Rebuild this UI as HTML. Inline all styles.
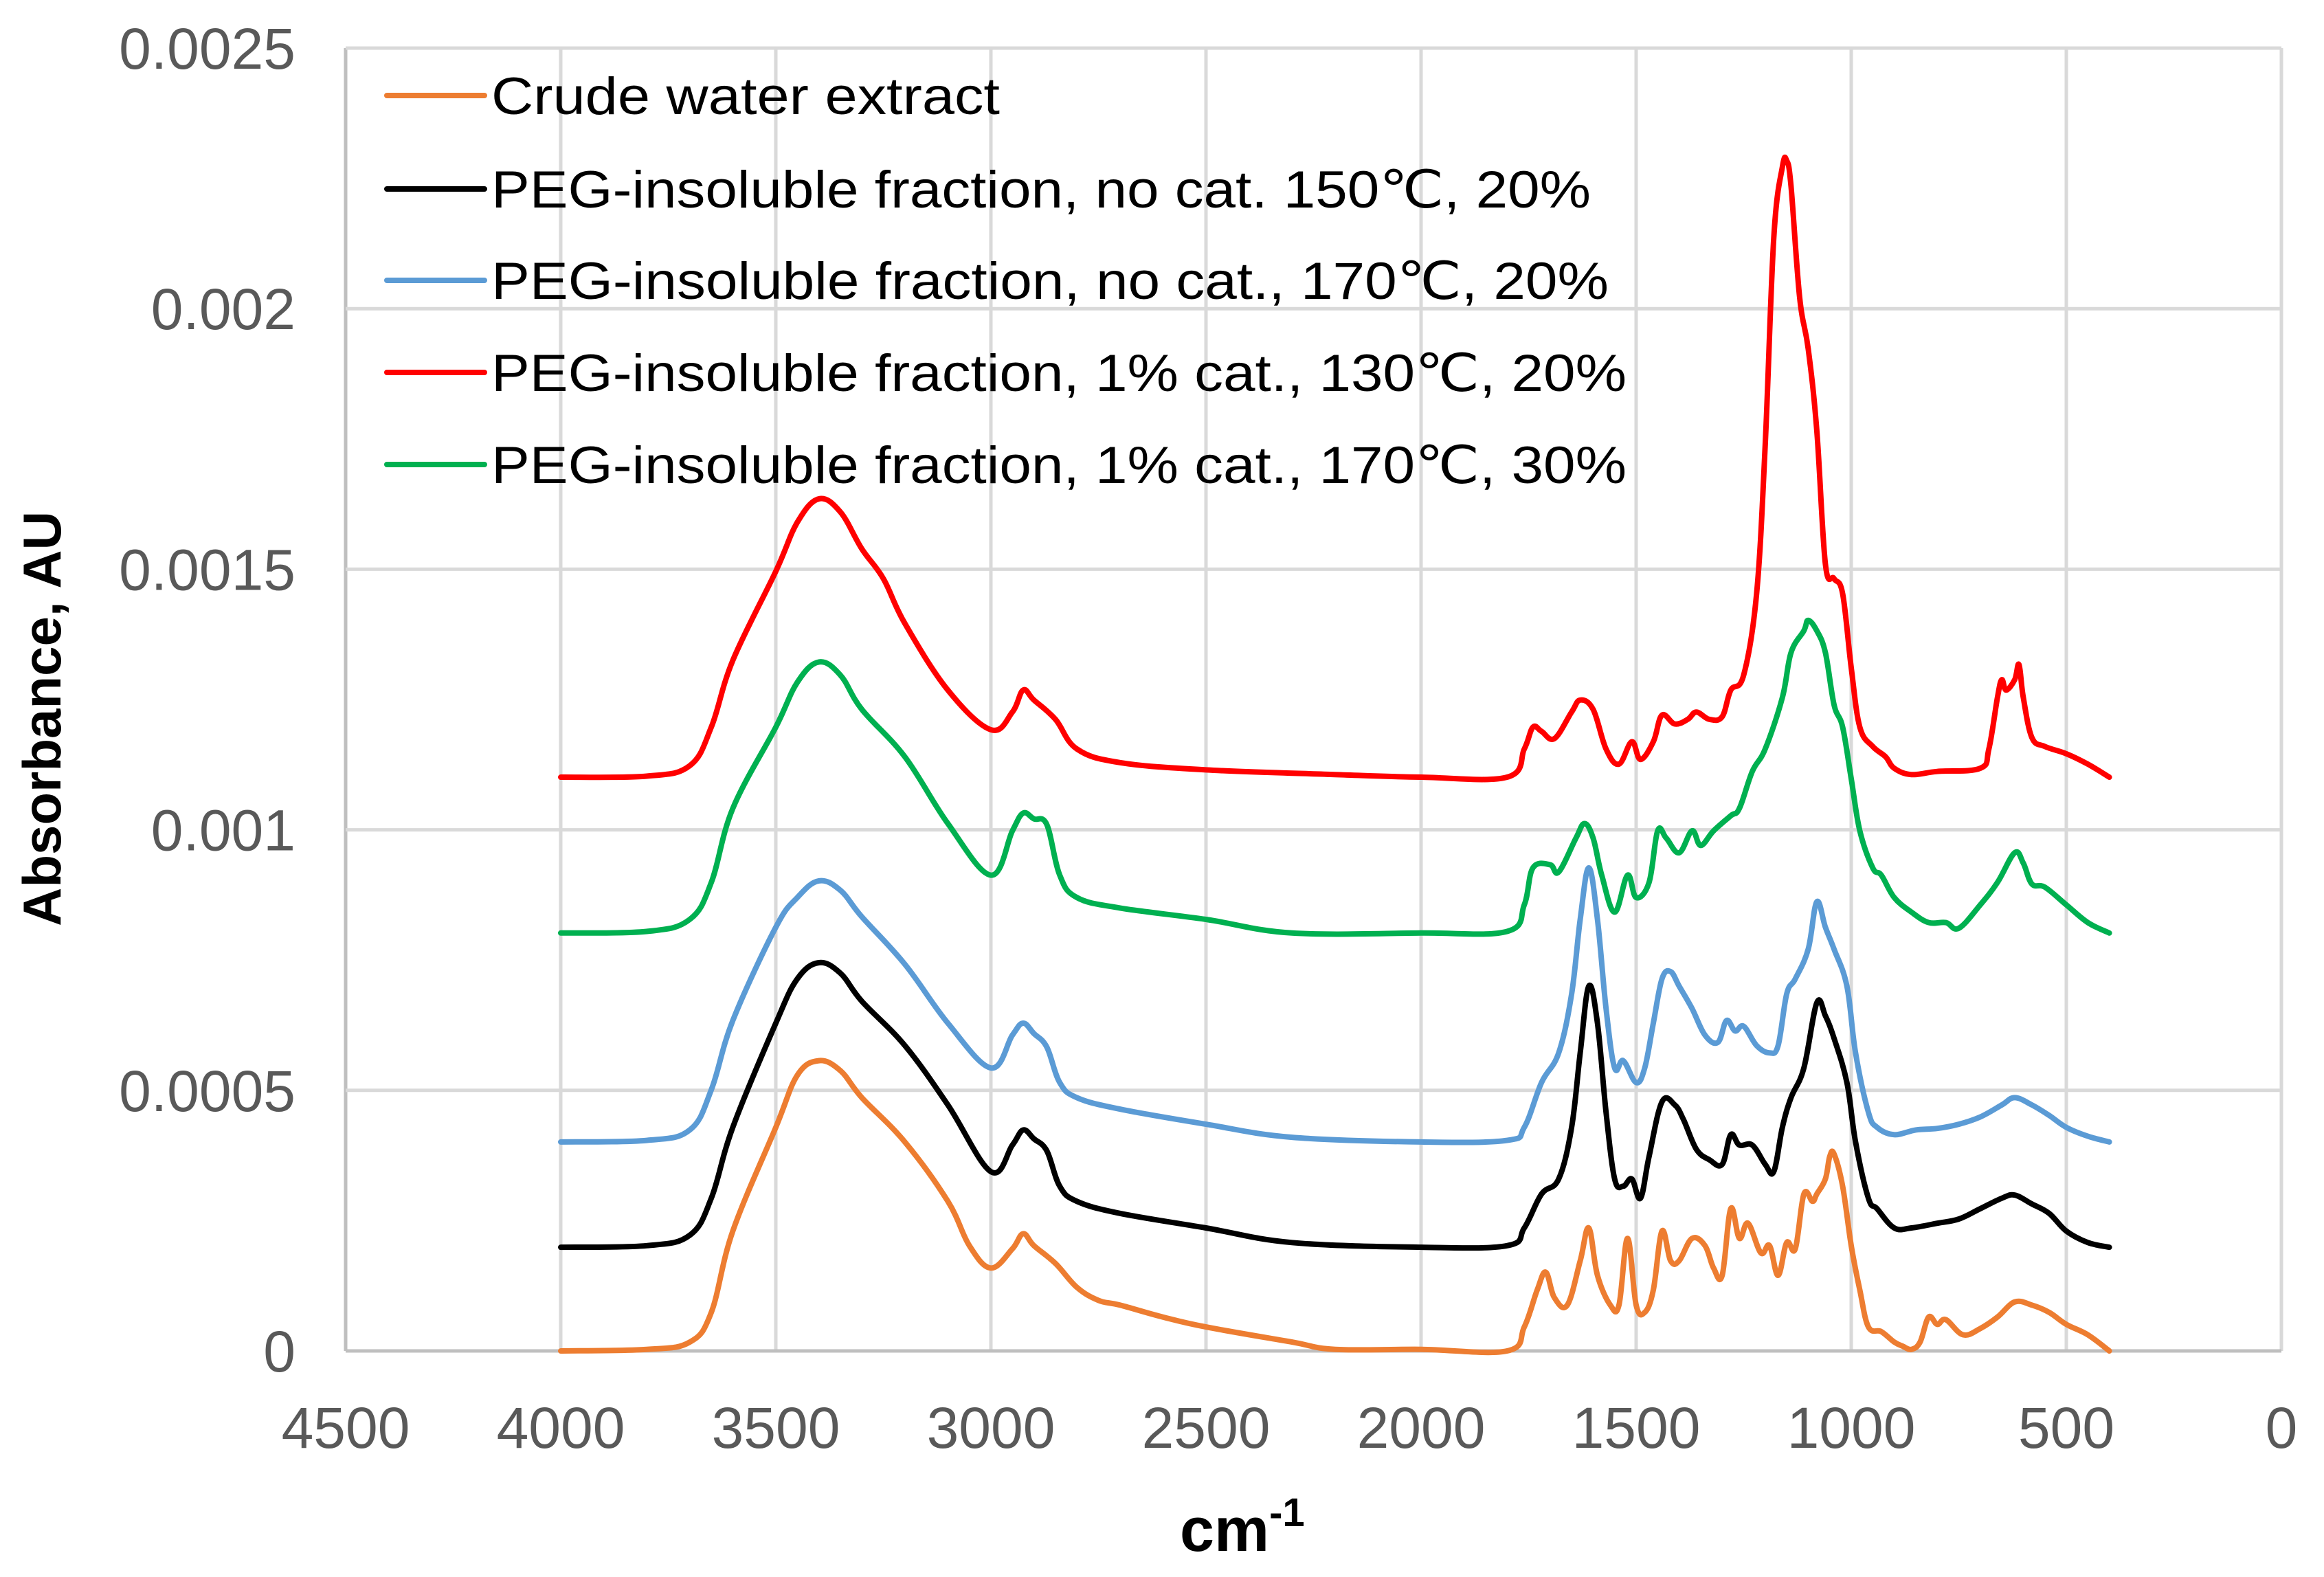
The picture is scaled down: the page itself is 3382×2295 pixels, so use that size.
<!DOCTYPE html>
<html><head><meta charset="utf-8"><style>
html,body{margin:0;padding:0;background:#fff;}
svg{display:block;font-family:"Liberation Sans",Arial,sans-serif;}
</style></head><body>
<svg id="chart" width="3382" height="2295" viewBox="0 0 3382 2295" xmlns="http://www.w3.org/2000/svg">
<rect width="3382" height="2295" fill="#fff"/>
<g id="grid"></g>
<g id="axes"></g>
<g id="series"></g>
<g id="legend"></g>
<text transform="translate(88,1046) rotate(-90)" text-anchor="middle" font-weight="bold" font-size="78" fill="#000">Absorbance, AU</text>
<text x="1717" y="2257" font-weight="bold" font-size="90" fill="#000">cm<tspan font-size="58" dy="-36">-1</tspan></text>
</svg>
<script>
const xTicks = [4500,4000,3500,3000,2500,2000,1500,1000,500,0];
const yTicks = [0,0.0005,0.001,0.0015,0.002,0.0025];
const yTickLabels = ["0","0.0005","0.001","0.0015","0.002","0.0025"];
const seriesNames = ["Crude water extract","PEG-insoluble fraction, no cat. 150\u2103, 20%","PEG-insoluble fraction, no cat., 170\u2103, 20%","PEG-insoluble fraction, 1% cat., 130\u2103, 20%","PEG-insoluble fraction, 1% cat., 170\u2103, 30%"];
const seriesColors = ["#ed7d31","#000000","#5b9bd5","#ff0000","#00b050"];
// values in units of 1e-4 AU
const orangeX = [4000,3800,3700,3650,3600,3500,3450,3400,3350,3300,3200,3100,3050,3000,2950,2925,2900,2850,2800,2750,2700,2600,2500,2300,2200,2000,1800,1760,1730,1710,1690,1660,1630,1610,1590,1560,1540,1520,1500,1480,1460,1440,1420,1400,1370,1340,1320,1300,1280,1260,1240,1210,1190,1170,1150,1130,1110,1090,1080,1060,1050,1040,1020,1000,980,960,930,900,880,860,840,820,800,780,740,700,660,620,580,540,500,450,400];
const orangeY = [0,0.03,0.17,0.74,2.30,4.29,5.29,5.57,5.38,4.86,4.01,2.87,2.02,1.59,1.96,2.25,2.02,1.68,1.22,0.97,0.88,0.65,0.46,0.17,0.03,0.03,0,0.46,1.17,1.51,1.02,0.88,1.73,2.36,1.45,0.88,0.88,2.16,0.88,0.74,1.17,2.30,1.73,1.73,2.16,2.02,1.59,1.45,2.73,2.16,2.45,1.88,2.02,1.45,2.08,1.96,3.01,2.87,3.01,3.30,3.73,3.78,3.16,2.02,1.17,0.46,0.37,0.17,0.09,0.03,0.17,0.65,0.51,0.60,0.31,0.43,0.65,0.94,0.88,0.74,0.51,0.31,0];
const blackX = [4000,3800,3700,3650,3600,3500,3450,3400,3350,3300,3200,3100,3000,2950,2925,2900,2870,2840,2800,2700,2500,2300,2000,1800,1760,1720,1680,1650,1630,1610,1590,1570,1550,1530,1510,1490,1470,1440,1410,1390,1360,1330,1300,1280,1260,1230,1200,1180,1160,1140,1110,1080,1060,1040,1010,990,960,940,900,860,800,750,700,650,620,580,540,500,450,400];
const blackY = [1.99,2.02,2.22,2.93,4.29,6.29,7.14,7.45,7.25,6.71,5.86,4.72,3.44,3.95,4.24,4.07,3.84,3.16,2.87,2.64,2.36,2.08,1.99,2.02,2.36,3.01,3.30,4.29,5.72,7.00,6.29,4.58,3.30,3.16,3.30,2.93,3.73,4.78,4.72,4.44,3.87,3.67,3.58,4.15,3.95,3.95,3.58,3.44,4.29,4.86,5.43,6.68,6.43,6.00,5.15,4.01,2.93,2.73,2.36,2.36,2.45,2.53,2.73,2.93,2.99,2.82,2.64,2.30,2.08,1.99];
const blueX = [4000,3800,3700,3650,3600,3500,3450,3400,3350,3300,3200,3100,3000,2950,2925,2900,2870,2840,2800,2700,2500,2300,2000,1800,1760,1720,1680,1650,1630,1610,1590,1570,1550,1530,1500,1480,1460,1440,1420,1400,1370,1340,1310,1290,1270,1250,1220,1190,1170,1150,1130,1100,1080,1060,1040,1010,990,960,940,900,850,800,750,700,650,620,580,540,500,450,400];
const blueY = [4.01,4.04,4.24,5.01,6.34,8.13,8.70,9.02,8.84,8.33,7.42,6.29,5.43,6.06,6.29,6.09,5.83,5.15,4.86,4.64,4.35,4.10,4.01,4.04,4.29,5.15,5.72,6.85,8.28,9.27,8.28,6.57,5.43,5.57,5.15,5.43,6.29,7.14,7.28,7.00,6.57,6.06,5.92,6.34,6.14,6.23,5.86,5.72,5.86,6.85,7.14,7.71,8.62,8.13,7.71,7.00,5.72,4.58,4.29,4.15,4.24,4.27,4.35,4.49,4.72,4.86,4.72,4.52,4.29,4.12,4.01];
const redX = [4000,3800,3700,3650,3600,3500,3450,3400,3350,3300,3250,3200,3100,3000,2950,2925,2900,2850,2800,2700,2500,2200,2000,1800,1760,1740,1720,1690,1650,1630,1600,1570,1540,1510,1490,1460,1440,1410,1380,1360,1330,1300,1280,1250,1220,1200,1180,1160,1150,1140,1120,1100,1080,1060,1040,1020,1000,980,950,920,900,860,800,700,680,660,650,640,620,610,600,580,550,500,450,400];
const redY = [11.01,11.03,11.23,11.97,13.25,14.96,15.90,16.35,16.10,15.39,14.82,13.96,12.68,11.92,12.26,12.68,12.49,12.12,11.55,11.29,11.15,11.06,11.01,11.01,11.55,11.97,11.89,11.75,12.26,12.49,12.31,11.55,11.26,11.69,11.35,11.69,12.20,12.03,12.12,12.26,12.12,12.17,12.68,12.97,14.53,17.38,21.36,22.72,22.84,22.35,20.22,19.23,17.66,15.10,14.82,14.53,13.11,11.97,11.60,11.40,11.18,11.06,11.12,11.18,11.55,12.54,12.88,12.68,12.88,13.17,12.54,11.77,11.60,11.46,11.26,11.01];
const greenX = [4000,3800,3700,3650,3600,3500,3450,3400,3350,3300,3200,3100,3000,2950,2925,2900,2870,2840,2800,2700,2500,2300,2000,1800,1760,1740,1700,1680,1640,1620,1600,1580,1550,1520,1500,1470,1450,1430,1400,1370,1350,1320,1280,1260,1230,1200,1160,1140,1110,1100,1080,1060,1040,1020,1000,980,950,930,900,860,820,780,750,700,660,620,600,580,550,500,450,400];
const greenY = [8.02,8.05,8.28,8.99,10.41,11.97,12.83,13.22,12.97,12.31,11.40,10.12,9.13,9.98,10.32,10.21,10.10,9.13,8.70,8.50,8.28,8.02,8.02,8.05,8.56,9.27,9.33,9.19,9.84,10.12,9.84,9.13,8.42,9.13,8.70,8.99,9.98,9.84,9.56,9.98,9.70,9.98,10.27,10.41,11.12,11.55,12.54,13.40,13.82,14.02,13.82,13.40,12.40,11.97,10.98,9.98,9.27,9.13,8.70,8.42,8.22,8.22,8.11,8.56,8.99,9.56,9.36,8.96,8.90,8.56,8.22,8.02];

const NS="http://www.w3.org/2000/svg";
const L=503,R=3320,T=70,B=1966;
const sx=v=>L+(4500-v)/4500*(R-L);
const sy=v=>B-v/0.0025*(B-T);
function mk(tag,attrs,parent){const e=document.createElementNS(NS,tag);for(const k in attrs)e.setAttribute(k,attrs[k]);parent.appendChild(e);return e;}
function smoothPath(pts){
  let d='M'+pts[0][0].toFixed(1)+','+pts[0][1].toFixed(1);
  for(let i=0;i<pts.length-1;i++){
    const p0=pts[i-1]||pts[i],p1=pts[i],p2=pts[i+1],p3=pts[i+2]||p2;
    const t=0.18;
    const c1=[p1[0]+(p2[0]-p0[0])*t,p1[1]+(p2[1]-p0[1])*t];
    const c2=[p2[0]-(p3[0]-p1[0])*t,p2[1]-(p3[1]-p1[1])*t];
    d+=' C'+c1[0].toFixed(1)+','+c1[1].toFixed(1)+' '+c2[0].toFixed(1)+','+c2[1].toFixed(1)+' '+p2[0].toFixed(1)+','+p2[1].toFixed(1);
  }
  return d;
}
const grid=document.getElementById('grid'),axes=document.getElementById('axes'),ser=document.getElementById('series'),leg=document.getElementById('legend');
xTicks.forEach(t=>{
  const ln=mk('line',{x1:sx(t),x2:sx(t),y1:T,y2:B,stroke:(t===4500?'#bfbfbf':'#d9d9d9'),'stroke-width':5},grid);
  
  
  const tx=mk('text',{x:sx(t),y:2107,'text-anchor':'middle','font-size':84,fill:'#595959'},axes);
  tx.textContent=String(t);
  
  
});
yTicks.forEach((t,i)=>{
  const ln=mk('line',{x1:L,x2:R,y1:sy(t),y2:sy(t),stroke:(t===0?'#bfbfbf':'#d9d9d9'),'stroke-width':5},grid);
  
  
  const tx=mk('text',{x:430,y:sy(t)+30,'text-anchor':'end','font-size':84,fill:'#595959'},axes);
  tx.textContent=yTickLabels[i];
  
  
});
const allX=[orangeX,blackX,blueX,redX,greenX],allY=[orangeY,blackY,blueY,redY,greenY];
const sNames=['series-crude-extract','series-no-cat-150','series-no-cat-170','series-cat-130','series-cat-170'];
allX.forEach((xs,i)=>{
  const pts=xs.map((x,j)=>[sx(x),sy(allY[i][j]*1e-4)]);
  const p=mk('path',{d:smoothPath(pts),fill:'none',stroke:seriesColors[i],'stroke-width':8,'stroke-linejoin':'round','stroke-linecap':'round'},ser);
  
  
});
const legY=[139,275,408,542,676],legW=[740,1600,1626,1652,1652];
seriesNames.forEach((n,i)=>{
  const ln=mk('line',{x1:563,x2:705,y1:legY[i],y2:legY[i],stroke:seriesColors[i],'stroke-width':8,'stroke-linecap':'round'},leg);
  
  
  const tx=mk('text',{x:715,y:legY[i]+27,'font-size':76,fill:'#000',textLength:legW[i],lengthAdjust:'spacingAndGlyphs'},leg);
  tx.textContent=n;
  
  
});
</script>
</body></html>
